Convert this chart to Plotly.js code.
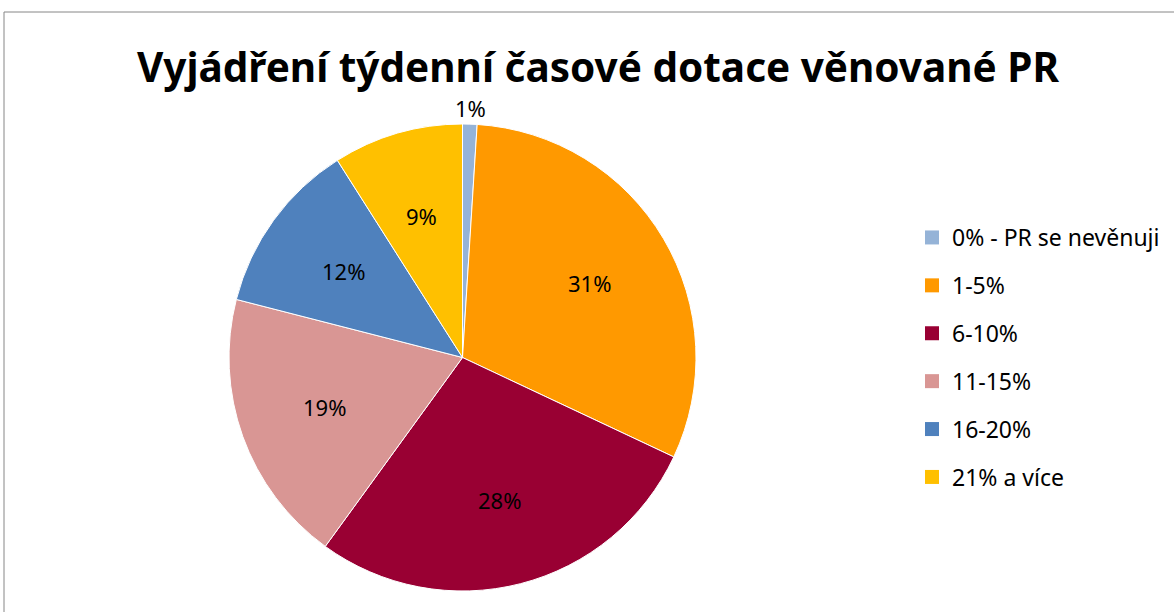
<!DOCTYPE html>
<html>
<head>
<meta charset="utf-8">
<script src="https://cdn.plot.ly/plotly-3.0.1.min.js"></script>
<style>html,body{margin:0;padding:0;background:#fff;}#chart{width:1174px;height:612px;}</style>
</head>
<body>
<div id="chart"></div>
<script>
const categories = ['0% - PR se nevěnuji', '1-5%', '6-10%', '11-15%', '16-20%', '21% a více'];
const values = [1, 31, 28, 19, 12, 9];
const colors = ['#95B3D7', '#FF9900', '#990033', '#D99694', '#4F81BD', '#FFC000'];
const titleText = 'Vyjádření týdenní časové dotace věnované PR';

const FONT = 'Noto Sans, DejaVu Sans, sans-serif';
const W = 1174, H = 612;
// pie placement (pixels)
const CX = 462.5, CY = 357.5, R = 233.5;

const pie = {
  type: 'pie',
  labels: categories,
  values: values,
  sort: false,
  direction: 'clockwise',
  rotation: 0,
  marker: {colors: colors, line: {color: '#ffffff', width: 1}},
  textinfo: 'none',
  domain: {x: [(CX - R) / W, (CX + R) / W], y: [(H - CY - R) / H, (H - CY + R) / H]},
  showlegend: false,
  hoverinfo: 'label+percent'
};

// data labels positioned from the slice angles (as the original places them)
const total = values.reduce((a, b) => a + b, 0);
let cum = 0;
const labelAnnotations = values.map(v => {
  const mid = (cum + v / 2) / total * 2 * Math.PI;
  cum += v;
  const d = (v / total < 0.03) ? R * 1.07 : R * 0.63;
  const px = CX + d * Math.sin(mid);
  const py = CY - d * Math.cos(mid);
  return {
    xref: 'paper', yref: 'paper', x: px / W, y: 1 - py / H,
    xanchor: 'center', yanchor: 'middle', showarrow: false,
    text: Math.round(v / total * 100) + '%',
    font: {family: FONT, size: 22, color: '#000000'}
  };
});

// legend entries as marker-only traces so item spacing matches the reference
const legendTraces = categories.map((c, i) => ({
  type: 'scatter',
  mode: 'markers',
  x: [null], y: [null],
  name: c,
  legendgroup: 'g' + i,
  marker: {symbol: 'square', size: 14, color: colors[i]},
  showlegend: true,
  hoverinfo: 'skip'
}));

const layout = {
  width: W, height: H,
  margin: {l: 0, r: 0, t: 0, b: 0},
  paper_bgcolor: '#ffffff', plot_bgcolor: 'rgba(0,0,0,0)',
  title: {text: '<b>' + titleText + '</b>', font: {family: FONT, size: 40.5, color: '#000000'},
          x: 598 / W, xanchor: 'center', y: 1 - 68 / H, yanchor: 'middle'},
  xaxis: {visible: false, domain: [0.99, 1]},
  yaxis: {visible: false, domain: [0.99, 1]},
  legend: {
    x: 912 / W, xanchor: 'left', y: 1 - 216 / H, yanchor: 'top',
    font: {family: FONT, size: 23, color: '#000000'},
    tracegroupgap: 15, bgcolor: 'rgba(0,0,0,0)', borderwidth: 0
  },
  annotations: labelAnnotations,
  shapes: [{type: 'rect', xref: 'paper', yref: 'paper',
            x0: 4 / W, x1: 1.05, y0: -0.05, y1: 1 - 12 / H,
            line: {color: '#868686', width: 1}, fillcolor: 'rgba(0,0,0,0)'}]
};

Plotly.newPlot('chart', [pie].concat(legendTraces), layout, {displayModeBar: false, staticPlot: true});
</script>
</body>
</html>
